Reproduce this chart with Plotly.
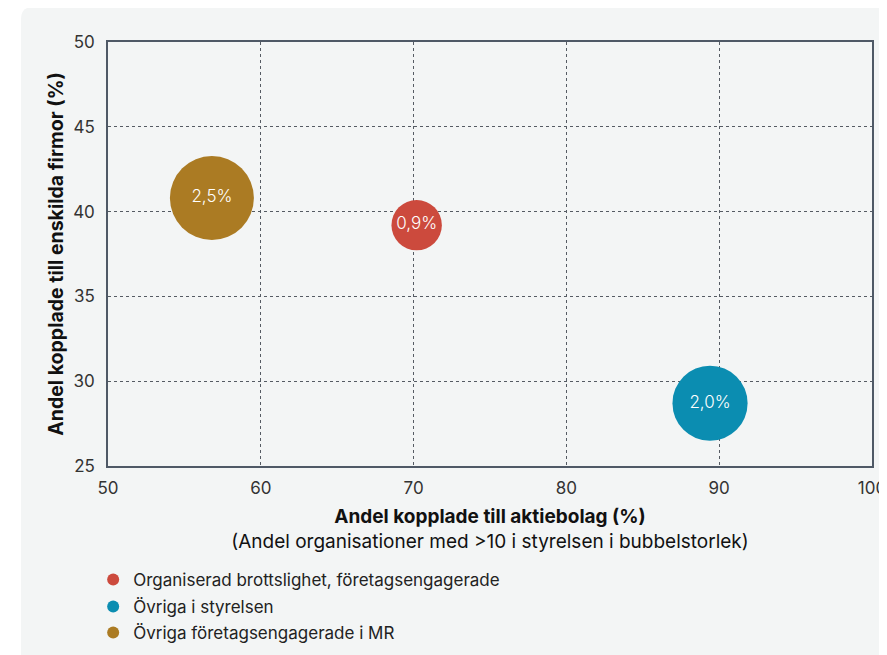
import plotly.graph_objects as go

# Data
series_names = ["Organiserad brottslighet, företagsengagerade", "Övriga i styrelsen", "Övriga företagsengagerade i MR"]
x_vals = [70.2, 89.4, 56.8]          # Andel kopplade till aktiebolag (%)
y_vals = [39.2, 28.7, 40.8]          # Andel kopplade till enskilda firmor (%)
bubble_vals = [0.9, 2.0, 2.5]        # Andel organisationer med >10 i styrelsen (%)
bubble_labels = ["0,9%", "2,0%", "2,5%"]
colors = ["#cc4a3d", "#0b8db1", "#ab7b23"]
x_ticks = [50, 60, 70, 80, 90, 100]
y_ticks = [25, 30, 35, 40, 45, 50]

OFF = 8  # page body margin
W, H = 887 - OFF, 655 - OFF
L, T = 108 - OFF, 42 - OFF
R = W - (872 - OFF)
B = H - (466 - OFF)
pw, ph = W - L - R, H - T - B
panel = "#f3f5f5"
max_d = 84
sizeref = 2.0 * max(bubble_vals) / (max_d ** 2)

def px_x(p):
    return (p - OFF - L) / pw

def px_y(p):
    return 1 - (p - OFF - T) / ph

legend_ids = ["legend", "legend2", "legend3"]
legend_rows = [580, 607, 633]  # page pixel rows of legend entries (layout only)

fig = go.Figure()
for i in range(len(series_names)):
    fig.add_trace(go.Scatter(
        x=[x_vals[i]], y=[y_vals[i]], mode="markers+text",
        name=series_names[i], legend=legend_ids[i],
        text=[bubble_labels[i]], textposition="middle center",
        textfont=dict(color="white", size=17, family="Inter", weight=300),
        marker=dict(size=[bubble_vals[i]], sizemode="area", sizeref=sizeref,
                    color=colors[i], line=dict(width=0), opacity=1),
        hoverinfo="skip",
    ))

# rounded panel
x0, x1 = px_x(21), px_x(900)
y0, y1 = px_y(670), px_y(7)
rx, ry = 12 / pw, 12 / ph
path = (f"M {x0},{y0} L {x0},{y1 - ry} Q {x0},{y1} {x0 + rx},{y1} "
        f"L {x1},{y1} L {x1},{y0} Z")
fig.add_shape(type="path", path=path, xref="paper", yref="paper",
              fillcolor=panel, line=dict(width=0), layer="below")

axis_common = dict(
    showline=True, linecolor="#4f5966", linewidth=1.5, mirror=True,
    showgrid=True, gridcolor="#555b63", gridwidth=1, griddash="3px,3px",
    zeroline=False, ticks="", automargin=False, ticklabeloverflow="allow",
    tickfont=dict(size=17, color="#333333", family="Inter"),
)

legend_style = dict(orientation="v", xanchor="left", yanchor="middle", x=-0.0194,
                    bgcolor="rgba(0,0,0,0)", itemsizing="constant",
                    font=dict(size=17, color="#222222", family="Inter"))

fig.update_layout(
    width=W, height=H,
    margin=dict(l=L, r=R, t=T, b=B, pad=0, autoexpand=False),
    paper_bgcolor="white", plot_bgcolor=panel,
    font=dict(family="Inter", color="#111111"),
    xaxis=dict(range=[50, 100], tickvals=x_ticks, ticklabelstandoff=6,
               title=dict(text="<b>Andel kopplade till aktiebolag (%)</b><br>(Andel organisationer med >10 i styrelsen i bubbelstorlek)",
                          font=dict(size=19, color="#111111", family="Inter"), standoff=13),
               **axis_common),
    yaxis=dict(range=[25, 50], tickvals=y_ticks, ticklabelstandoff=8,
               title=dict(text="<b>Andel kopplade till enskilda firmor (%)</b>",
                          font=dict(size=19.5, color="#111111", family="Inter"), standoff=4),
               **axis_common),
    legend=dict(y=px_y(legend_rows[0]), **legend_style),
    legend2=dict(y=px_y(legend_rows[1]), **legend_style),
    legend3=dict(y=px_y(legend_rows[2]), **legend_style),
    showlegend=True,
)

fig.write_html("out.html")
